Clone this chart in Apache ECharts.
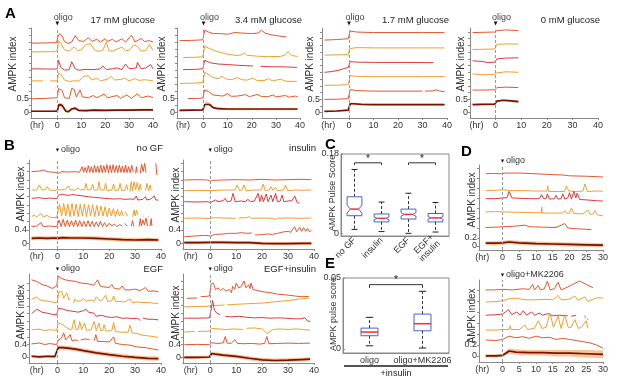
<!DOCTYPE html>
<html><head><meta charset="utf-8">
<script src="https://cdn.jsdelivr.net/npm/echarts@6/dist/echarts.min.js"></script>
<style>html,body{margin:0;padding:0;background:#fff}#c{width:617px;height:384px}</style>
</head><body><div id="c"></div>
<script>
// ================= DATA =================
const oligoTime = 0;
// ---- A: 17 mM glucose ----
const trA17 = [
 [[-11,2.46],[-5,2.47],[-0.3,2.48],[0.3,2.7],[1,2.8],[2,2.72],[3,2.52],[4.5,2.45],[6,2.5],[7.5,2.73],[9,2.55],[11,2.52],[13,2.66],[14.5,2.52],[16.5,2.6],[18,2.5],[20,2.62],[21,2.52],[23,2.6],[24.5,2.5],[27,2.62],[28.5,2.5],[31,2.75],[32.5,2.5],[35,2.63],[36.5,2.52],[38.5,2.55],[40,2.5]],
 [[-11,2.15],[-1,2.16],[0,2.2],[0.5,2.55],[1.5,2.45],[3,2.22],[5,2.18],[7,2.33],[8.5,2.2],[10,2.22],[12,2.42],[14,2.44],[15.5,2.22],[17,2.17],[19,2.2],[20.5,2.5],[21.5,2.2],[23,2.17],[25,2.25],[27,2.32],[28.5,2.2],[30,2.2],[32,2.4],[33.5,2.35],[35,2.18],[37,2.2],[38.5,2.42],[40,2.2]],
 [[-11,1.55],[-1,1.54],[0,1.55],[0.5,1.85],[1.5,1.6],[3,1.5],[5,1.52],[6,1.8],[7.5,1.55],[9,1.5],[12,1.53],[15,1.52],[18,1.55],[19,1.65],[20.5,1.52],[23,1.55],[25,1.58],[27,1.52],[28.5,1.72],[30,1.55],[33,1.58],[33.5,1.78],[35,1.55],[37,1.58],[39,1.7],[40,1.55]],
 [[-11,1.12],[-6,1.12],[-5,null],[-3,1.12],[0,1.12],[0.5,1.4],[1.5,1.35],[3,1.15],[5,1.1],[7,1.12],[9,1.12],[11,1.28],[13,1.3],[14.5,1.15],[16.5,1.22],[18,1.12],[21,1.18],[22.5,1.28],[24,1.15],[27,1.18],[28,1.22],[30,1.12],[32.5,1.2],[34,1.14],[37,1.16],[40,1.12]],
 [[-11,0.48],[-5,0.5],[0,0.52],[0.5,0.85],[2,0.78],[3,0.52],[5,0.5],[6,0.85],[7,0.82],[8,0.55],[9.5,0.8],[10.5,0.55],[13,0.52],[15,0.6],[16.5,0.52],[19.5,0.65],[21,0.52],[25,0.6],[26.5,0.5],[29,0.62],[31,0.5],[33.5,0.66],[35,0.52],[38,0.58],[40,0.52]]
];
const meanA17 = [[-11,0.04],[-1,0.04],[0,0.05],[0.7,0.28],[2,0.25],[3.5,0.05],[4.5,0.02],[6,0.12],[7.5,0.15],[9,0.07],[12,0.06],[15,0.08],[20,0.07],[25,0.08],[30,0.08],[35,0.09],[40,0.09]];
const sdA17 = [0.03,0.03,0.03,0.07,0.07,0.05,0.04,0.04,0.05,0.04,0.04,0.04,0.04,0.04,0.04,0.04,0.04];
// ---- A: 3.4 mM glucose ----
const trA34 = [
 [[-10,2.55],[-5,2.56],[-0.3,2.58],[0.5,2.92],[2,2.86],[4,2.8],[7,2.8],[10,2.78],[13,2.84],[16,2.82],[20,2.8],[22.5,2.82],[24,2.92],[25.5,2.82],[28,2.76],[31,2.72],[34.3,2.68]],
 [[-8.5,1.95],[-3,1.96],[-0.3,1.98],[0.5,2.35],[3,2.25],[6,2.15],[10,2.07],[14,2.02],[16,2.05],[17,2.12],[18,2.03],[22,2.0],[27,1.98],[32,1.99],[34,2.05],[35,2.17],[36.5,2.02],[39,1.99]],
 [[-8.5,1.52],[-3,1.53],[-0.3,1.55],[0.5,1.85],[3,1.76],[6,1.72],[10,1.7],[15,1.67],[20.5,1.65],[21,null],[23.6,1.64],[28,1.62],[33,1.62],[38.7,1.6]],
 [[-9.7,1.03],[-4,1.04],[-0.3,1.06],[0.5,1.42],[2,1.35],[4,1.24],[6,1.2],[7.7,1.28],[9.5,1.18],[12,1.17],[14,1.24],[16,1.16],[18,1.15],[20.5,1.22],[22,1.14],[25,1.13],[27,1.2],[28.5,1.12],[32,1.18],[34,1.11],[38.7,1.1]],
 [[-6.5,0.49],[-2,0.5],[-0.3,0.51],[0.5,0.8],[2,0.74],[4,0.62],[6,0.6],[8,0.58],[10,0.66],[11.5,0.57],[14,0.58],[17.5,0.63],[19,0.56],[22.5,0.64],[24,0.56],[27,0.56],[28.7,0.62],[30,0.55],[34,0.6],[35.5,0.54],[38,0.58],[39,0.55]]
];
const meanA34 = [[-10,0.07],[-5,0.08],[-0.3,0.09],[0.5,0.28],[1.3,0.34],[2.5,0.28],[4,0.17],[6,0.13],[10,0.12],[20,0.12],[30,0.12],[39,0.12]];
const sdA34 = [0.03,0.03,0.03,0.05,0.06,0.05,0.04,0.04,0.04,0.04,0.04,0.04];
// ---- A: 1.7 mM glucose ----
const trA17b = [
 [[-10,2.7],[-5,2.72],[-0.3,2.75],[0.5,3.04],[3,3.0],[10,2.98],[20,2.98],[30,2.98],[39,2.98]],
 [[-10,2.14],[-5,2.15],[-0.3,2.16],[0.3,2.38],[1,2.45],[3,2.42],[10,2.41],[20,2.41],[30,2.41],[39,2.41]],
 [[-10,1.5],[-7,1.53],[-4,1.58],[-2,1.64],[-0.3,1.68],[0.5,1.9],[3,1.88],[10,1.87],[20,1.87],[34.5,1.86]],
 [[-10,1.02],[-5,1.02],[-0.3,1.04],[0.5,1.38],[3,1.35],[10,1.34],[20,1.34],[30,1.34],[39,1.34]],
 [[-10,0.49],[-5,0.5],[-0.3,0.52],[0.5,0.86],[3,0.82],[10,0.8],[20,0.8],[30,0.8],[30.3,null],[31,0.8],[34,0.81],[35.5,0.85],[37,0.8],[39,0.78]]
];
const meanA17b = [[-10,0.05],[-5,0.06],[-0.3,0.09],[0.5,0.33],[2,0.33],[5,0.31],[10,0.3],[20,0.3],[30,0.3],[39,0.3]];
const sdA17b = [0.03,0.03,0.03,0.04,0.04,0.03,0.03,0.03,0.03,0.03];
// ---- A: 0 mM glucose ----
const trA0 = [
 [[-9,2.98],[-5,2.99],[-0.3,3.0],[0.5,3.05],[4,3.08],[8.9,3.05]],
 [[-9,2.35],[-4,2.36],[-0.3,2.37],[0.5,2.54],[4,2.56],[8.9,2.55]],
 [[-9,1.93],[-5,1.9],[-3,1.86],[-0.3,1.88],[0.5,2.0],[4,2.03],[8.9,2.04]],
 [[-9,1.44],[-5,1.41],[-0.3,1.43],[0.5,1.48],[4,1.52],[8.9,1.5]],
 [[-9,0.84],[-4,0.84],[-0.3,0.85],[0.5,0.93],[4,0.95],[8.9,0.93]]
];
const meanA0 = [[-9,0.3],[-5,0.31],[-0.3,0.32],[0.5,0.43],[3,0.46],[6,0.44],[8.9,0.41]];
const sdA0 = [0.03,0.03,0.03,0.04,0.04,0.04,0.04];
// ---- B: no GF ----
const trNoGF = [
 [[-10,2.15],[-7,2.17],[-5.5,2.2],[-4,2.15],[-1,2.13],[-0.3,2.08],[0.5,2.1],[1.5,2.15],[4,2.14],[7,2.15],[8.5,2.13],[9.5,2.3],[10.1,2.13],[10.7,2.28],[11.3,2.12],[11.9,2.33],[12.5,2.13],[13.1,2.3],[13.7,2.12],[14.3,2.34],[14.9,2.13],[15.5,2.32],[16.1,2.12],[16.7,2.35],[17.3,2.12],[17.9,2.33],[18.5,2.13],[19.1,2.36],[19.7,2.12],[20.3,2.34],[20.9,2.12],[21.5,2.36],[22.1,2.13],[22.7,2.33],[23.3,2.12],[23.9,2.35],[24.5,2.13],[25.1,2.32],[25.7,2.12],[26.3,2.35],[26.9,2.12],[27.5,2.3],[28.1,2.12],[28.7,2.34],[29.3,2.14],[29.6,null],[30.2,2.1],[30.5,2.3],[30.8,2.12],[31,null],[32,2.1],[32.5,2.38],[33.1,2.15],[33.7,2.4],[34.2,2.12],[34.5,null],[38,2.4],[38.4,2.05],[38.6,null]],
 [[-10,1.6],[-8,1.6],[-7,1.75],[-6,1.6],[-4.5,1.62],[-4,1.7],[-3,1.6],[-1,1.58],[0,1.62],[1,1.6],[3,1.62],[4.2,1.72],[5,1.6],[7,1.6],[8,1.66],[9,1.6],[10.5,1.62],[11,1.8],[11.6,1.6],[13,1.62],[13.6,1.77],[14.2,1.6],[15.5,1.6],[16,1.85],[16.6,1.6],[18,1.6],[18.6,1.8],[19.2,1.58],[21,1.6],[21.7,1.78],[22.3,1.58],[23.6,1.6],[24.2,1.8],[24.8,1.58],[26,1.6],[26.7,1.76],[27.2,1.6],[27.5,null],[28,1.55],[28.5,1.85],[29,1.58],[29.6,1.85],[30.2,1.6],[30.8,1.82],[31.4,1.58],[32,1.78],[32.4,1.6],[32.6,null],[34,1.58],[34.6,1.8],[35.2,1.58],[35.8,1.75],[36.2,1.6]],
 [[-10,1.35],[-7,1.37],[-5,1.34],[-3,1.36],[-0.3,1.34],[0.5,1.45],[2,1.47],[4,1.44],[6,1.46],[8,1.44],[10,1.42],[12,1.4],[14,1.38],[16,1.37],[18,1.35],[20,1.34],[22,1.33],[24,1.34],[26,1.32],[28,1.33],[29.5,1.32],[30.5,1.42],[31,1.3],[33,1.32],[34,1.4],[34.5,1.3],[36,1.33],[37.4,1.42],[38,1.3],[39,1.3]],
 [[-10,0.8],[-9,0.85],[-8,0.79],[-6.4,0.9],[-5.5,0.79],[-4,0.84],[-3,0.78],[-0.3,0.77],[0.8,1.18],[1.6,0.82],[2.4,1.2],[3.2,0.82],[4,1.18],[4.8,0.8],[5.6,1.2],[6.4,0.82],[7.2,1.18],[8,0.8],[8.8,1.17],[9.6,0.82],[10.4,1.18],[11.2,0.8],[12,1.16],[12.8,0.82],[13.6,1.16],[14.4,0.8],[15.2,1.14],[16,0.82],[16.8,1.12],[17.6,0.82],[18.4,1.1],[19.2,0.8],[20,1.06],[20.8,0.82],[21.6,1.04],[22.4,0.8],[23.2,1.02],[24,0.82],[24.8,0.98],[25.4,0.82],[25.6,null],[26.2,0.95],[27,0.82],[27.2,null],[29,0.8],[29.6,1.0],[30,0.82],[30.6,1.0],[31,0.85],[31.2,null],[33,0.8],[33.3,0.82],[33.4,null],[35,0.82],[35.3,0.8]],
 [[-10,0.5],[-8,0.52],[-6.4,0.62],[-5.5,0.5],[-3,0.52],[-0.3,0.5],[0.6,0.7],[1.4,0.5],[2.2,0.72],[3,0.5],[3.8,0.7],[4.6,0.5],[5.4,0.68],[6.2,0.5],[7,0.7],[7.8,0.5],[8.6,0.68],[9.4,0.5],[10.2,0.66],[11,0.5],[11.8,0.68],[12.6,0.5],[13.4,0.66],[14.2,0.5],[15,0.64],[15.8,0.5],[16.6,0.66],[17.4,0.5],[18.2,0.62],[19,0.5],[20,0.6],[21,0.52],[22,0.58],[23,0.5],[24,0.56],[25,0.52],[25.5,null],[26,0.6],[26.8,0.52],[27,null],[28.5,0.52],[29,0.68],[29.5,0.5],[29.8,null],[31.5,0.5],[32,0.74],[32.4,0.52],[33,0.7],[33.6,0.55],[34.2,0.76],[34.8,0.52],[35,null],[35.8,0.52],[36.2,0.74],[36.5,0.52]]
];
const meanNoGF = [[-10,0.15],[-7,0.16],[-4,0.15],[-1,0.16],[0,0.15],[2,0.17],[5,0.16],[10,0.16],[15,0.15],[20,0.13],[25,0.11],[30,0.1],[35,0.11],[39,0.1]];
const sdNoGF = [0.06,0.06,0.06,0.06,0.06,0.06,0.06,0.06,0.06,0.06,0.06,0.06,0.06,0.06];
// ---- B: insulin ----
const trIns = [
 [[-10,1.9],[-5,1.91],[-1,1.9],[0,1.86],[1,1.89],[5,1.9],[10,1.91],[15,1.9],[20,1.92],[25,1.9],[30,1.91],[35,1.92],[39,1.91]],
 [[-10,1.58],[-5,1.59],[0,1.58],[5,1.6],[8,1.6],[9.5,1.6],[10.4,1.75],[11.2,1.59],[12.2,1.6],[13,1.75],[13.8,1.58],[17,1.6],[19.6,1.6],[20.4,1.78],[21.2,1.58],[22.6,1.6],[23.4,1.7],[24.1,1.59],[24.5,1.6],[25.2,1.68],[25.9,1.58],[28.2,1.6],[29,1.75],[29.8,1.58],[33,1.6],[36,1.59],[39,1.6]],
 [[-10,1.25],[-5,1.24],[-1,1.25],[0,1.22],[2,1.3],[3,1.25],[5,1.28],[5.7,1.35],[6.5,1.25],[8,1.27],[8.8,1.5],[9.6,1.25],[12,1.27],[13.5,1.25],[14.5,1.32],[15.5,1.25],[17,1.27],[18.5,1.5],[19.1,1.25],[19.8,1.45],[20.5,1.25],[21.6,1.48],[22.3,1.25],[23.4,1.45],[24.1,1.25],[25.2,1.5],[25.9,1.25],[27,1.27],[27.7,1.45],[28.4,1.25],[30,1.27],[31.5,1.28],[32.6,1.42],[33.5,1.22],[34.4,1.2]],
 [[-10,0.75],[-5,0.76],[0,0.74],[1,0.77],[5,0.76],[9.8,0.75],[10,null],[11,0.76],[14,0.77],[15,0.8],[16,0.75],[20,0.76],[24,0.75],[25,0.72],[26,0.75],[30,0.76],[35,0.75],[39,0.76]],
 [[-10,0.2],[-6,0.22],[-2,0.24],[0,0.22],[2,0.27],[5,0.28],[7,0.3],[10,0.3],[12,0.32],[14,0.3],[16,0.31],[16.2,null],[17.3,0.25],[18,0.3],[20,0.26],[22,0.28],[24,0.27],[26,0.3],[28,0.34],[30,0.36],[31,0.33],[32.5,0.5],[33.3,0.35],[34.5,0.48],[35.2,0.36],[36,0.47],[36.8,0.36],[37.5,0.45],[38.2,0.35],[39,0.38]]
];
const meanIns = [[-10,0.02],[-5,0.02],[0,0.03],[5,0.03],[10,0.02],[15,0.02],[20,0.0],[25,-0.01],[30,-0.01],[35,0.0],[39,0.0]];
const sdIns = [0.05,0.05,0.05,0.05,0.05,0.05,0.05,0.05,0.05,0.05,0.05];
// ---- B: EGF ----
const trEGF = [
 [[-10,2.5],[-8,2.45],[-6,2.35],[-4,2.3],[-2,2.22],[-0.3,2.3],[0.3,2.62],[1.5,2.55],[3,2.5],[5,2.47],[7,2.45],[9,2.4],[11,2.38],[13,2.35],[14,2.33],[15.5,2.5],[16.5,2.3],[18,2.27],[20,2.25],[21,2.35],[22,2.22],[24,2.2],[25,2.3],[26,2.18],[28,2.17],[30,2.2],[32,2.15],[34,2.25],[35,2.13],[37,2.14],[39,2.12]],
 [[-10,1.87],[-8,1.95],[-7,1.85],[-5,1.82],[-3,1.8],[-1,1.76],[0,1.78],[0.5,2.1],[1,2.05],[1.7,2.12],[2.4,1.9],[3,1.92],[3.6,2.08],[4.4,1.85],[5,1.9],[5.1,null],[6.2,1.75],[6.7,1.88],[7.5,1.8],[9,1.82],[10,1.9],[11,1.8],[13,1.85],[14,1.8],[15,1.95],[16,1.85],[17,1.82],[18.6,2.0],[19.4,1.8],[21,1.82],[21.7,1.98],[22.5,1.8],[24,1.8],[26,1.78],[28,1.88],[29,1.76],[31,1.78],[33,1.76],[35,1.77],[37,1.74],[39,1.74]],
 [[-10,1.4],[-8,1.55],[-6,1.45],[-4,1.42],[-2,1.38],[-0.3,1.36],[0.3,1.58],[2,1.55],[4,1.5],[6,1.48],[8,1.45],[10,1.5],[11,1.55],[12,1.45],[14,1.42],[15,1.32],[17,1.35],[19,1.3],[21,1.28],[23,1.3],[25,1.25],[27,1.26],[29,1.24],[31,1.25],[32,1.18],[32.3,null],[33,1.26],[35,1.22],[37,1.22],[39,1.2]],
 [[-10,0.88],[-7,0.9],[-5,0.85],[-3,0.88],[-0.3,0.86],[0.3,1.1],[2,1.05],[4,0.92],[5.5,0.88],[6.4,1.2],[7.2,0.88],[8,0.9],[8.6,1.15],[9.3,0.88],[10,0.9],[10.5,1.1],[11.2,0.86],[13,0.88],[14.2,1.15],[15,0.85],[16,1.1],[16.7,0.85],[17.5,0.86],[18,1.05],[18.7,0.84],[21,0.85],[21.7,1.12],[22.4,0.82],[25,0.8],[27.3,0.8],[28,1.03],[28.8,0.78],[31,0.75],[33,0.7],[35,0.68],[37,0.66],[39,0.63]],
 [[-10,0.42],[-7,0.45],[-5,0.4],[-3,0.43],[-0.3,0.4],[0.3,0.55],[1.5,0.6],[2.4,0.78],[3.2,0.55],[4,0.62],[4.9,0.72],[5.6,0.52],[7,0.55],[8,0.52],[8.1,null],[9,0.55],[10.5,0.58],[12.4,0.56],[12.5,null],[14.2,0.52],[14.8,0.72],[15.5,0.5],[18,0.5],[20,0.48],[21.7,0.65],[22.4,0.44],[25,0.4],[28,0.38],[31,0.32],[34,0.3],[37,0.25],[39,0.22]]
];
const meanEGF = [[-10,0.02],[-7,0.0],[-4,0.02],[-1,0.01],[0.3,0.3],[2,0.3],[4,0.28],[7,0.25],[10,0.2],[15,0.13],[20,0.07],[25,0.02],[30,-0.02],[35,-0.05],[39,-0.06]];
const sdEGF = [0.05,0.05,0.05,0.05,0.07,0.07,0.07,0.07,0.07,0.07,0.07,0.07,0.07,0.07,0.07];
// ---- B: EGF+insulin ----
const trEGFIns = [
 [[-9,1.87],[-5,1.88],[-4.4,null],[-3.7,1.92],[-0.3,1.94],[0.3,2.32],[1.2,2.35],[2,2.15],[3,2.2],[4,2.12],[5,2.18],[6,2.1],[7.4,2.15],[8.2,2.05],[8.6,2.25],[9.4,2.15],[10,2.35],[11,2.2],[12,2.25],[13,2.42],[13.8,2.2],[14.8,2.3],[15.3,2.18],[15.7,2.35],[16.5,2.15],[18,2.12],[20,2.08],[23,2.05],[26,2.0],[29,1.98],[32,1.95],[35,1.92],[38,1.93]],
 [[-10,1.6],[-5,1.61],[-0.3,1.62],[0.5,1.64],[4,1.65],[5.5,1.66],[5.6,null],[6.5,1.66],[10,1.68],[15,1.7],[20,1.72],[25,1.76],[30,1.8],[35,1.85],[38,1.88]],
 [[-10,1.24],[-5,1.24],[-0.3,1.25],[0.3,1.5],[0.9,1.8],[1.6,1.5],[2.5,1.4],[3.7,1.35],[3.8,null],[5.8,1.3],[8,1.28],[11,1.3],[14,1.27],[17,1.25],[20,1.26],[23,1.24],[26,1.25],[29,1.24],[32,1.22],[35,1.22],[36.5,1.26],[37.5,1.15],[38.5,1.14]],
 [[-10,0.8],[-6,0.82],[-5.4,null],[-4.8,0.82],[-0.3,0.83],[0.5,0.92],[3,0.9],[6,0.88],[9,0.9],[12.5,0.88],[12.6,null],[14,0.92],[17,0.93],[20,0.9],[22,0.75],[24,0.88],[27,0.9],[30,0.88],[33,0.9],[36,0.88],[38.5,0.86]],
 [[-10,0.4],[-5,0.41],[-0.3,0.4],[0.5,0.46],[3,0.44],[5,0.46],[5.8,0.66],[6.5,0.45],[8,0.44],[9.5,0.56],[10.5,0.44],[13,0.43],[16,0.44],[19,0.42],[21,0.44],[21.8,0.66],[22.6,0.43],[26,0.44],[30,0.45],[34,0.44],[38.5,0.45]]
];
const meanEGFIns = [[-10,0.0],[-5,0.0],[-0.3,0.01],[0.5,0.12],[2,0.1],[5,0.07],[10,0.03],[15,-0.03],[20,-0.08],[25,-0.1],[30,-0.09],[35,-0.07],[38.5,-0.06]];
const sdEGFIns = [0.05,0.05,0.05,0.06,0.06,0.06,0.06,0.06,0.06,0.06,0.06,0.06,0.06];
// ---- D: oligo ----
const trDOligo = [
 [[-5,1.8],[-3,1.81],[-0.3,1.8],[1,1.82],[5,1.82],[10,1.8],[15,1.78],[18,1.77],[20,1.75],[25,1.74],[28,1.73],[30,1.72]],
 [[-5,1.38],[-2,1.39],[0,1.4],[3,1.38],[7,1.38],[10,1.37],[13.3,1.37],[13.5,1.5],[13.7,1.36],[17,1.36],[18.5,1.36],[19.1,1.5],[19.8,1.37],[22,1.36],[24,1.37],[24.6,1.55],[25.3,1.36],[28,1.37],[30,1.37]],
 [[-5,1.18],[-2,1.18],[0,1.2],[1.3,1.2],[2,1.36],[2.8,1.2],[5,1.19],[8,1.18],[11,1.18],[11.7,1.28],[12.3,1.18],[13,1.18],[13.4,1.3],[14,1.17],[15.5,1.18],[16,1.26],[16.6,1.17],[17.5,1.18],[18,1.3],[18.6,1.17],[19.5,1.2],[20,1.33],[20.6,1.17],[21.3,1.36],[21.9,1.2],[22.3,1.32],[23,1.16],[25,1.15],[28,1.13],[30,1.12]],
 [[-5,0.85],[-2,0.86],[0,0.85],[5,0.84],[10,0.83],[11.6,0.83],[11.7,0.97],[11.9,0.82],[15,0.82],[18,0.82],[18.6,0.88],[19.2,0.81],[20,0.82],[20.6,0.95],[21.3,0.81],[24,0.8],[25.5,0.9],[26.2,0.79],[27,0.8],[27.6,0.88],[28.2,0.78],[30,0.75]],
 [[-5,0.46],[-2,0.47],[0,0.48],[3,0.49],[6.7,0.52],[8,0.48],[12,0.47],[16,0.46],[18.6,0.56],[19.5,0.45],[22,0.43],[24,0.42],[26.5,0.41]]
];
const meanDOligo = [[-5,0.07],[-2,0.07],[0,0.08],[2,0.1],[5,0.08],[10,0.06],[15,0.05],[20,0.04],[25,0.03],[30,0.02]];
const sdDOligo = [0.05,0.05,0.05,0.05,0.05,0.05,0.05,0.05,0.05,0.05];
// ---- D: oligo+MK2206 ----
const trDMK = [
 [[-5,1.2],[-2,1.2],[0,1.21],[3,1.2],[6,1.22],[8,1.21],[9,1.3],[9.6,1.2],[10.7,1.28],[11.3,1.2],[12.5,1.22],[13.4,1.36],[14.2,1.2],[15.5,1.22],[16.6,1.34],[17.5,1.2],[19,1.24],[21,1.3],[23,1.36],[25,1.3],[27,1.24]],
 [[-5,0.98],[-2,0.99],[0,1.0],[2,1.04],[4,1.05],[7,1.02],[10,1.02],[13,1.03],[15,1.02],[16.6,1.1],[17.5,1.02],[20,1.03],[21.6,1.09],[22.5,1.01],[24.6,1.07],[25.5,0.99],[27,1.03],[28.5,1.06],[30,1.05]],
 [[-5,0.74],[-2,0.75],[0,0.76],[1.8,0.84],[2.8,0.75],[4.3,0.8],[5.2,0.74],[6.2,0.82],[7.2,0.74],[8.7,0.8],[9.6,0.74],[11,0.78],[12,0.74],[13.5,0.77],[15,0.73],[17,0.74],[19.5,0.73],[19.6,null],[20.5,0.72],[22,0.74],[22.1,null],[24.5,0.73],[24.8,0.7],[24.9,null],[25.3,0.68],[25.5,0.66]],
 [[-5,0.47],[-2,0.47],[0,0.48],[2,0.48],[2.3,0.55],[2.6,0.48],[5,0.48],[6.7,0.56],[7.5,0.48],[9.5,0.5],[10.7,0.64],[11.8,0.5],[13,0.52],[14.2,0.78],[15.2,0.52],[16.6,0.72],[17.5,0.5],[18.6,0.75],[19.6,0.52],[20.5,0.52],[21.6,0.66],[22.6,0.5],[23.5,0.52],[25,0.64],[25.5,0.5]],
 [[-5,0.29],[-2,0.28],[0,0.3],[2,0.36],[4,0.33],[6,0.35],[8,0.32],[10,0.36],[12,0.33],[14,0.34],[16,0.3],[18,0.32],[20,0.3],[22,0.28],[24,0.26],[26,0.24],[28,0.2],[30,0.14]]
];
const meanDMK = [[-5,0.0],[-2,0.0],[0,0.01],[1,0.05],[2,0.09],[4,0.07],[8,0.06],[12,0.06],[16,0.05],[20,0.05],[25,0.04],[30,0.03]];
const sdDMK = [0.03,0.03,0.03,0.04,0.05,0.05,0.05,0.05,0.06,0.06,0.07,0.07];
// ---- C: pulse score boxes [idx, whiskerLow, Q1, median, Q3, whiskerHigh, notchLow, notchHigh] ----
const catsC = ['no GF','insulin','EGF','EGF+\ninsulin'];
const boxC = [
 [0,0.009,0.040,0.055,0.083,0.145,0.046,0.064],
 [1,0.004,0.026,0.034,0.044,0.071,0.031,0.037],
 [2,0.000,0.0325,0.043,0.055,0.091,0.039,0.047],
 [3,0.003,0.026,0.035,0.045,0.070,0.032,0.038]
];
const sigC = [[0,1,0.160,0.155],[2,3,0.160,0.155]];
// ---- E ----
const catsE = ['oligo','oligo+MK2206'];
const boxE = [
 [0,0.0021,0.0092,0.0118,0.0146,0.0222],
 [1,0.0005,0.0127,0.0177,0.0245,0.0406]
];
const sigE = [[0,1,0.0453,0.0430]];

// ================= STYLE / LAYOUT =================
const FONT = 'Liberation Sans, Arial, Helvetica, sans-serif';
const traceColors = ['#e4572e','#f0a030','#dc3b3b','#f0a030','#e4572e'];
const meanColor = '#7a1000', bandColor = 'rgba(246,160,85,0.62)';
const axisGray = '#8a8a8a', txt = '#333';
const ytA = [0,0.25,0.5,0.75,1,1.25,1.5,1.75,2,2.25,2.5,2.75,3];
const ytB = [0,0.2,0.4,0.65,0.9,1.15,1.4,1.65,1.9,2.15,2.4];
const ytD1 = [0,0.1,0.2,0.45,0.7,0.95,1.2,1.45,1.7,1.95];
const ytD2 = [0,0.1,0.2,0.4,0.6,0.8,1.0,1.2];
const xt40 = [0,10,20,30,40], xt30 = [0,5,10,15,20,25,30];

// nm: centre of the rotated "AMPK index" label
const panels = [
 {tr:trA17, mean:meanA17, sd:sdA17, title:'17 mM glucose', olabel:'oligo', mode:'A', g:{left:31,top:28,width:122,height:90}, x:[-11,40], xl:[-8.5,0,10,20,30,40], xt:xt40, y:[-0.2,3.0], yl:[0,0.5], yt:ytA, nm:[13,64], ty:20, oy:24},
 {tr:trA34, mean:meanA34, sd:sdA34, title:'3.4 mM glucose', olabel:'oligo', mode:'A', g:{left:177,top:28,width:123,height:90}, x:[-11,40], xl:[-8.5,0,10,20,30,40], xt:xt40, y:[-0.2,3.0], yl:[0,0.5], yt:ytA, nm:[162,64], ty:20, oy:24},
 {tr:trA17b, mean:meanA17b, sd:sdA17b, title:'1.7 mM glucose', olabel:'oligo', mode:'A', g:{left:322,top:28,width:125,height:90}, x:[-11,40], xl:[-8.5,0,10,20,30,40], xt:xt40, y:[-0.2,3.15], yl:[0,0.5], yt:ytA, nm:[310,64], ty:20, oy:24},
 {tr:trA0, mean:meanA0, sd:sdA0, title:'0 mM glucose', olabel:'oligo', mode:'A', g:{left:470,top:28,width:128,height:90}, x:[-10,40], xl:[-7.5,0,10,20,30,40], xt:xt40, y:[-0.2,3.15], yl:[0,0.5], yt:ytA, nm:[461,64], ty:20, oy:24},
 {tr:trNoGF, mean:meanNoGF, sd:sdNoGF, title:'no GF', olabel:'oligo', mode:'B', g:{left:29,top:160,width:132,height:89}, x:[-11,40], xl:[-8,0,10,20,30,40], xt:xt40, y:[-0.17,2.5], yl:[0,0.2,0.4], yt:ytB, nm:[21,194], ty:148, oy:150},
 {tr:trIns, mean:meanIns, sd:sdIns, title:'insulin', olabel:'oligo', mode:'B', g:{left:183,top:160,width:131,height:89}, x:[-10.5,40], xl:[-7.5,0,10,20,30,40], xt:xt40, y:[-0.17,2.5], yl:[0,0.2,0.4], yt:ytB, nm:[176,195], ty:148, oy:150},
 {tr:trEGF, mean:meanEGF, sd:sdEGF, title:'EGF', olabel:'oligo', mode:'B', g:{left:29,top:274,width:132,height:89}, x:[-11,40], xl:[-8,0,10,20,30,40], xt:xt40, y:[-0.2,2.69], yl:[0,0.2,0.4], yt:ytB, nm:[21,312], ty:269, oy:269},
 {tr:trEGFIns, mean:meanEGFIns, sd:sdEGFIns, title:'EGF+insulin', olabel:'oligo', mode:'B', g:{left:183,top:274,width:131,height:89}, x:[-10.5,40], xl:[-7.5,0,10,20,30,40], xt:xt40, y:[-0.18,2.64], yl:[0,0.2,0.4], yt:ytB, nm:[176,313], ty:269, oy:269},
 {tr:trDOligo, mean:meanDOligo, sd:sdDOligo, title:'', olabel:'oligo', mode:'D', g:{left:479,top:165,width:124,height:85}, x:[-7,30], xl:[-6,0,5,10,15,20,25,30], xt:xt30, y:[-0.1,2.02], yl:[0,0.1,0.2], yt:ytD1, nm:[472,200], ty:0, oy:161},
 {tr:trDMK, mean:meanDMK, sd:sdDMK, title:'', olabel:'oligo+MK2206', mode:'D', g:{left:479,top:280,width:124,height:82}, x:[-7,30], xl:[-6,0,5,10,15,20,25,30], xt:xt30, y:[-0.11,1.38], yl:[0,0.1,0.2], yt:ytD2, nm:[472,316], ty:0, oy:275}
];

// ================= BUILD =================
const chart = echarts.init(document.getElementById('c'), null, {renderer:'canvas'});
const grids = [], xAxes = [], yAxes = [], series = [];
const lbl = {fontSize:9, color:txt, fontFamily:FONT, hideOverlap:false, showMinLabel:true, showMaxLabel:true};

panels.forEach((p, i) => {
  grids.push(Object.assign({outerBoundsMode:'none', containLabel:false}, p.g));
  xAxes.push({type:'value', gridIndex:i, min:p.x[0], max:p.x[1],
    axisLine:{show:true, onZero:false, lineStyle:{color:axisGray, width:1}},
    axisTick:{show:true, customValues:p.xt, length:2, lineStyle:{color:axisGray}},
    axisLabel:Object.assign({customValues:p.xl, margin:3, formatter:v => v < 0 ? '(hr)' : String(v)}, lbl),
    splitLine:{show:false}});
  yAxes.push({type:'value', gridIndex:i, min:p.y[0], max:p.y[1],
    axisLine:{show:true, onZero:false, lineStyle:{color:axisGray, width:1}},
    axisTick:{show:true, customValues:p.yt, length:2, lineStyle:{color:axisGray}},
    axisLabel:Object.assign({customValues:p.yl, margin:2, formatter:v => String(v)}, lbl),
    splitLine:{show:false}});
  series.push({type:'custom', xAxisIndex:i, yAxisIndex:i, silent:true, z:1,
    data:[[p.mean[0][0], p.mean[0][1]]],
    renderItem:(params, api) => {
      const up = [], lo = [];
      p.mean.forEach((pt, k) => {
        up.push(api.coord([pt[0], pt[1] + p.sd[k]]));
        lo.push(api.coord([pt[0], pt[1] - p.sd[k]]));
      });
      return {type:'polygon', shape:{points:up.concat(lo.reverse())}, style:{fill:bandColor}};
    }});
  p.tr.forEach((d, k) => series.push({type:'line', xAxisIndex:i, yAxisIndex:i, data:d,
    symbol:'none', showSymbol:false, connectNulls:false, silent:true, z:2,
    lineStyle:{color:traceColors[k], width:1}}));
  series.push({type:'line', xAxisIndex:i, yAxisIndex:i, data:p.mean, symbol:'none', showSymbol:false,
    silent:true, z:3, lineStyle:{color:meanColor, width:1.7},
    markLine:{silent:true, symbol:['none','none'], label:{show:false},
      lineStyle:{type:[3,2], color:'#9a9a9a', width:1}, data:[{xAxis:oligoTime}]}});
});

function boxRenderer(boxFrac, capFrac, notched) {
  return (params, api) => {
    const idx = api.value(0);
    const band = api.size([1, 0])[0];
    const w = band * boxFrac / 2, cw = band * capFrac / 2;
    const Y = k => api.coord([idx, api.value(k)])[1];
    const cx = api.coord([idx, api.value(3)])[0];
    const yl = Y(1), q1 = Y(2), md = Y(3), q3 = Y(4), yh = Y(5);
    const dash = {stroke:'#333', lineWidth:1, lineDash:[3,2]};
    const solid = {stroke:'#222', lineWidth:1};
    const ch = [
      {type:'line', shape:{x1:cx, y1:q3, x2:cx, y2:yh}, style:dash},
      {type:'line', shape:{x1:cx, y1:q1, x2:cx, y2:yl}, style:dash},
      {type:'line', shape:{x1:cx - cw, y1:yh, x2:cx + cw, y2:yh}, style:solid},
      {type:'line', shape:{x1:cx - cw, y1:yl, x2:cx + cw, y2:yl}, style:solid}
    ];
    let pts, m0, m1;
    if (notched) {
      const nl = Y(6), nh = Y(7), n = w * 0.45;
      pts = [[cx - w, q3], [cx + w, q3], [cx + w, nh], [cx + w - n, md], [cx + w, nl], [cx + w, q1],
             [cx - w, q1], [cx - w, nl], [cx - w + n, md], [cx - w, nh]];
      m0 = cx - w + n; m1 = cx + w - n;
    } else {
      pts = [[cx - w, q3], [cx + w, q3], [cx + w, q1], [cx - w, q1]];
      m0 = cx - w; m1 = cx + w;
    }
    ch.push({type:'polygon', shape:{points:pts}, style:{fill:'transparent', stroke:'#4a63c8', lineWidth:1}});
    ch.push({type:'line', shape:{x1:m0, y1:md, x2:m1, y2:md}, style:{stroke:'#e8303a', lineWidth:1.5}});
    return {type:'group', children:ch};
  };
}
function sigRenderer(params, api) {
  const a = api.coord([api.value(0), api.value(2)]);
  const b = api.coord([api.value(1), api.value(2)]);
  const d = api.coord([api.value(0), api.value(3)])[1];
  return {type:'group', children:[
    {type:'polyline', shape:{points:[[a[0], d], a, b, [b[0], d]]}, style:{stroke:'#333', lineWidth:1, fill:null}},
    {type:'text', style:{text:'*', x:(a[0] + b[0]) / 2, y:a[1] + 1, align:'center', verticalAlign:'bottom', textAlign:'center', textVerticalAlign:'bottom', font:'10px ' + FONT, fill:'#222'}}
  ]};
}

const boxPanels = [
  {cats:catsC, box:boxC, sig:sigC, notched:true, bf:0.55, cf:0.22, g:{left:341,top:154,width:108,height:82}, y:[-0.006,0.18], yl:[0,0.18], name:'AMPK Pulse Score', nm:[333,193], rot:45},
  {cats:catsE, box:boxE, sig:sigE, notched:false, bf:0.32, cf:0.14, g:{left:343,top:278,width:106,height:75}, y:[-0.003,0.05], yl:[0,0.05], name:'AMPK pulse score', nm:[334,314], rot:0}
];
boxPanels.forEach(bp => {
  const i = grids.length;
  grids.push(Object.assign({outerBoundsMode:'none', containLabel:false, show:true, borderColor:axisGray, borderWidth:1, backgroundColor:'transparent'}, bp.g));
  xAxes.push({type:'category', gridIndex:i, data:bp.cats,
    axisLine:{show:true, onZero:false, lineStyle:{color:axisGray}}, axisTick:{show:false},
    axisLabel:Object.assign({rotate:bp.rot, interval:0, margin:3, lineHeight:9}, lbl), splitLine:{show:false}});
  yAxes.push({type:'value', gridIndex:i, min:bp.y[0], max:bp.y[1],
    axisLine:{show:true, onZero:false, lineStyle:{color:axisGray}},
    axisTick:{show:true, customValues:bp.yl, length:2, inside:true, lineStyle:{color:axisGray}},
    axisLabel:Object.assign({customValues:bp.yl, margin:2, formatter:v => String(v)}, lbl),
    splitLine:{show:false}});
  series.push({type:'custom', xAxisIndex:i, yAxisIndex:i, silent:true, data:bp.box, renderItem:boxRenderer(bp.bf, bp.cf, bp.notched), z:3});
  series.push({type:'custom', xAxisIndex:i, yAxisIndex:i, silent:true, data:bp.sig, renderItem:sigRenderer, z:3});
});

chart.setOption({animation:false, backgroundColor:'#fff', grid:grids, xAxis:xAxes, yAxis:yAxes, series:series});

// ================= ANNOTATIONS =================
const gfx = [];
const T = (text, x, y, font, fill, align, va) => ({type:'text', silent:true, style:{text, x, y, font, fill,
  align, verticalAlign:va, textAlign:align, textVerticalAlign:va}});
const RT = (text, x, y, font) => ({type:'text', silent:true, x, y, rotation:Math.PI / 2,
  style:{text, x:0, y:0, font, fill:txt, align:'center', verticalAlign:'middle', textAlign:'center', textVerticalAlign:'middle'}});
[['A',5,6],['B',4,138],['C',325,137],['D',461,144],['E',325,256]].forEach(l =>
  gfx.push(T(l[0], l[1], l[2], 'bold 15px ' + FONT, '#000', 'left', 'top')));
panels.forEach((p, i) => {
  const x0 = chart.convertToPixel({xAxisIndex:i}, oligoTime);
  gfx.push(RT('AMPK index', p.nm[0], p.nm[1], '10px ' + FONT));
  if (p.title) gfx.push(T(p.title, p.g.left + p.g.width + 2, p.ty, '9.5px ' + FONT, '#222', 'right', 'middle'));
  if (p.mode === 'A') {
    gfx.push({type:'polygon', silent:true, shape:{points:[[x0 - 1.8, p.oy - 2.5], [x0 + 1.8, p.oy - 2.5], [x0, p.oy + 1.5]]}, style:{fill:'#111'}});
    gfx.push(T(p.olabel, x0 + 6, p.oy - 6, '9px ' + FONT, '#444', 'center', 'middle'));
  } else {
    gfx.push({type:'polygon', silent:true, shape:{points:[[x0 - 1.6, p.oy - 1.5], [x0 + 1.6, p.oy - 1.5], [x0, p.oy + 1.8]]}, style:{fill:'#111'}});
    gfx.push(T(p.olabel, x0 + 3.5, p.oy, '9px ' + FONT, '#333', 'left', 'middle'));
  }
});
boxPanels.forEach(bp => gfx.push(RT(bp.name, bp.nm[0], bp.nm[1], '9px ' + FONT)));
gfx.push({type:'line', silent:true, shape:{x1:344, y1:366, x2:448, y2:366}, style:{stroke:'#555', lineWidth:2}});
gfx.push(T('+insulin', 396, 374, '9px ' + FONT, '#222', 'center', 'middle'));
chart.setOption({graphic:gfx});
</script></body></html>
